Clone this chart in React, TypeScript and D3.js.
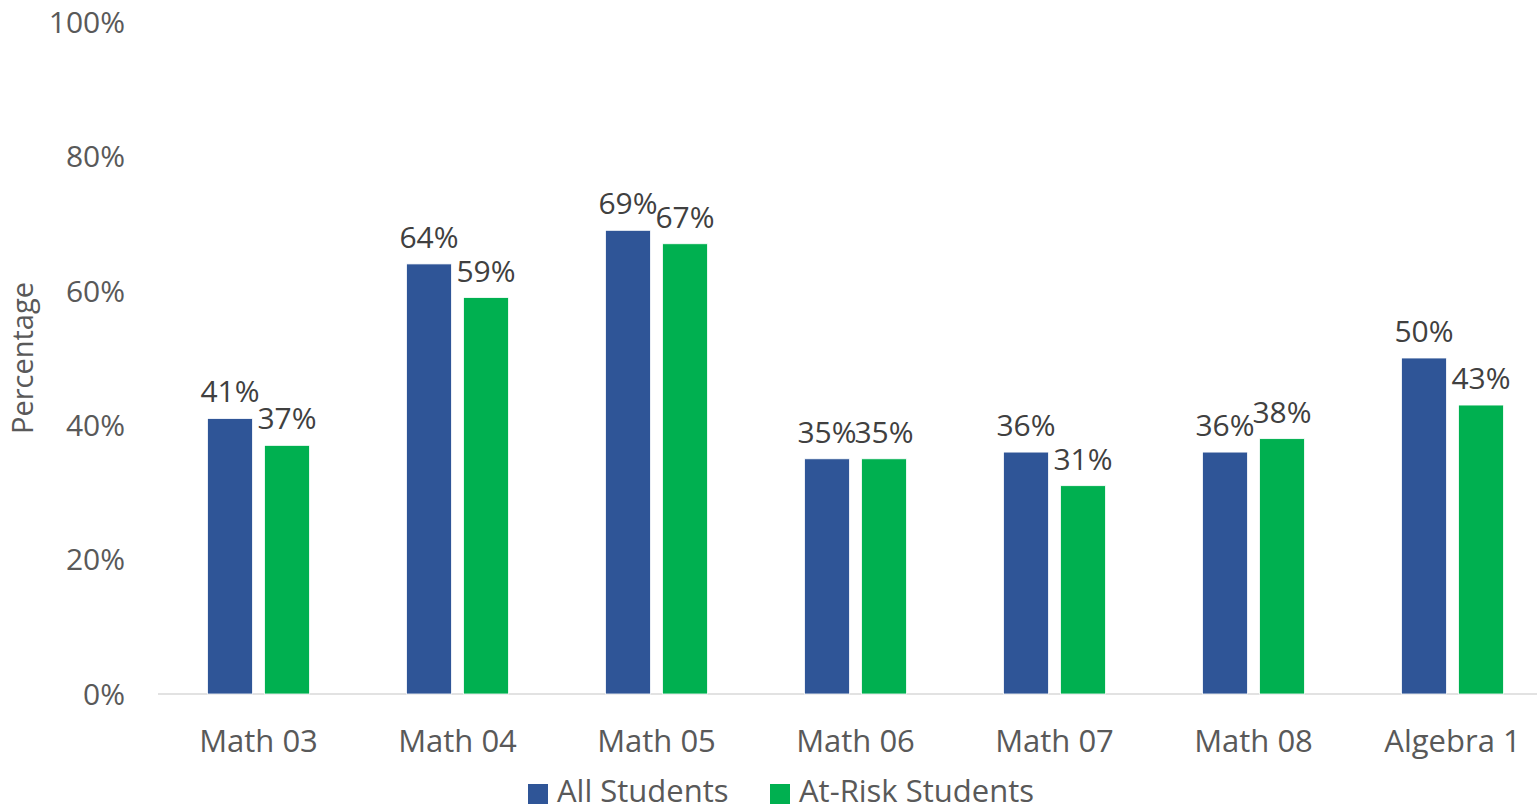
import React from "react";
import * as d3 from "d3";

const categories = ["Math 03", "Math 04", "Math 05", "Math 06", "Math 07", "Math 08", "Algebra 1"];
const seriesNames = ["All Students", "At-Risk Students"];
const allStudents = [0.41, 0.64, 0.69, 0.35, 0.36, 0.36, 0.5];
const atRiskStudents = [0.37, 0.59, 0.67, 0.35, 0.31, 0.38, 0.43];
const yTicks = [0, 0.2, 0.4, 0.6, 0.8, 1.0];
const colors = ["#2F5597", "#00B050"];

const W = 1537;
const H = 810;
const FONT = "'Open Sans', 'Noto Sans', sans-serif";

export default function App() {
  const y = d3.scaleLinear().domain([0, 1]).range([694, 22]);
  const p = 97 / 199;
  const x0 = d3.scaleBand<string>().domain(categories).range([159, 1552]).paddingInner(p).paddingOuter(p / 2);
  const x1 = d3.scaleBand<string>().domain(seriesNames).range([0, x0.bandwidth()]).paddingInner(12 / 57).paddingOuter(0);
  const seriesData = [allStudents, atRiskStudents];
  const fmt = d3.format(".0%");

  return (
    <svg width={W} height={H} style={{ position: "absolute", left: 0, top: 0, display: "block" }} fontFamily={FONT}>
      <rect x={0} y={0} width={W} height={H} fill="#fff" />
      {yTicks.map((t) => (
        <text key={t} x={125} y={y(t)} dy="0.36em" textAnchor="end" fontSize={30} fill="#595959">
          {fmt(t)}
        </text>
      ))}
      <text transform={`translate(33,358) rotate(-90)`} textAnchor="middle" fontSize={29} fill="#595959">
        Percentage
      </text>
      <line x1={158} x2={W} y1={y(0)} y2={y(0)} stroke="#D9D9D9" strokeWidth={1.5} />
      {categories.map((c, i) => (
        <g key={c} transform={`translate(${x0(c)},0)`}>
          {seriesNames.map((s, j) => {
            const v = seriesData[j][i];
            const bx = x1(s)!;
            const bw = x1.bandwidth();
            return (
              <g key={s}>
                <rect x={bx} y={y(v)} width={bw} height={y(0) - y(v)} fill={colors[j]} stroke="#fff" strokeWidth={0.8} />
                <text x={bx + bw / 2} y={y(v) - 16} textAnchor="middle" fontSize={30} fill="#404040">
                  {fmt(v)}
                </text>
              </g>
            );
          })}
          <text x={x0.bandwidth() / 2} y={752} textAnchor="middle" fontSize={31} fill="#595959">
            {c}
          </text>
        </g>
      ))}
      {seriesNames.map((s, j) => {
        const lx = [528, 770][j];
        return (
          <g key={s}>
            <rect x={lx} y={784} width={20} height={20} fill={colors[j]} />
            <text x={lx + 29} y={802} fontSize={31} fill="#595959">
              {s}
            </text>
          </g>
        );
      })}
    </svg>
  );
}
